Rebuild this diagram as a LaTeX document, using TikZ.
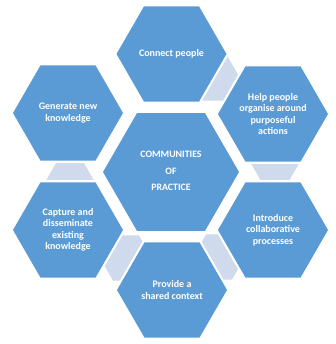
\documentclass[tikz,border=0pt]{standalone}
\usepackage{fontspec}
\setmainfont{Carlito}
\definecolor{hexblue}{HTML}{5B9BD5}
\definecolor{hexlight}{HTML}{CFDAEC}
\newcommand{\hexa}[3]{([shift={(#1,#2)}]0:#3) -- ([shift={(#1,#2)}]60:#3) -- ([shift={(#1,#2)}]120:#3) -- ([shift={(#1,#2)}]180:#3) -- ([shift={(#1,#2)}]240:#3) -- ([shift={(#1,#2)}]300:#3) -- cycle}
\newcommand{\bighex}[3]{%
  \fill[white] \hexa{#1}{#2}{#3+2.5};
  \fill[hexblue] \hexa{#1}{#2}{#3};}
\begin{document}
\begin{tikzpicture}[x=1pt,y=-1pt,
  lbl/.style={text=white,font=\fontsize{10}{11.5}\selectfont\bfseries,align=center,inner sep=0pt},
  clbl/.style={text=white,font=\fontsize{9.8}{16.5}\selectfont\bfseries,align=center,inner sep=0pt}]
\useasboundingbox (0,0) rectangle (335,344);
\fill[white] (0,0) rectangle (335,344);
% connectors
\fill[hexlight] \hexa{214}{78}{26};
\fill[hexlight] \hexa{275}{160}{26};
\fill[hexlight] \hexa{219}{257}{26};
\fill[hexlight] \hexa{126}{258}{26};
\fill[hexlight] \hexa{70}{184}{26};
% hexagons
\bighex{171.5}{54}{55}
\bighex{273}{114}{55}
\bighex{273}{230}{55}
\bighex{172}{290}{55}
\bighex{68}{230}{55}
\bighex{68}{113}{55}
\bighex{171}{172}{68}
% labels
\node[lbl] (t) at (171.5,54) {Connect people};
\node[lbl] (rt) at (273,114) {Help people\\organise around\\purposeful\\actions};
\node[lbl] (rb) at (273,230) {Introduce\\collaborative\\processes};
\node[lbl] (b) at (172,290) {Provide a\\shared context};
\node[lbl] (lb) at (68,230) {Capture and\\disseminate\\existing\\knowledge};
\node[lbl] (lt) at (68,113) {Generate new\\knowledge};
\node[clbl] (c) at (171,171) {COMMUNITIES\\OF\\PRACTICE};
\end{tikzpicture}
\end{document}
